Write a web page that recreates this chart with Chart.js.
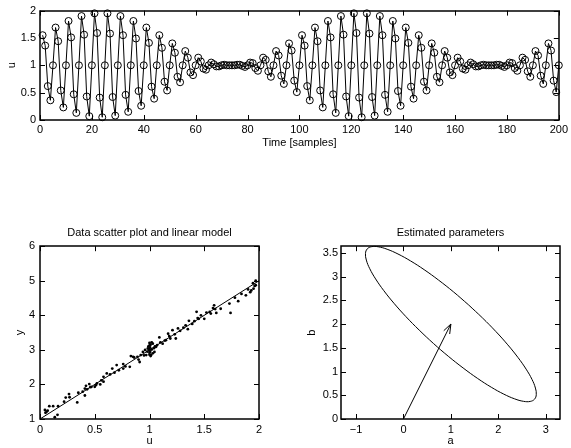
<!DOCTYPE html>
<html><head><meta charset="utf-8">
<script src="https://cdn.jsdelivr.net/npm/chart.js@4/dist/chart.umd.min.js"></script>
<style>
html,body{margin:0;padding:0;background:#fff;width:571px;height:448px;overflow:hidden}
canvas{position:absolute}
</style></head><body>
<canvas id="c1" width="571" height="150" style="left:0;top:0;width:571px;height:150px"></canvas>
<canvas id="c2" width="285" height="228" style="left:0;top:220px;width:285px;height:228px"></canvas>
<canvas id="c3" width="286" height="228" style="left:285px;top:220px;width:286px;height:228px"></canvas>
<script>
// ---- data: input signal u over samples 1..200 ----
const uSignal = [
1.55,1.36,0.62,0.36,1.00, 1.69,1.44,0.54,0.23,1.00, 1.81,1.51,0.47,0.13,1.00, 1.90,1.56,0.43,0.07,1.00,
1.95,1.59,0.41,0.05,1.00, 1.95,1.58,0.42,0.08,1.00, 1.90,1.55,0.46,0.15,1.00, 1.81,1.49,0.53,0.26,1.00,
1.69,1.41,0.61,0.39,1.00, 1.55,1.32,0.70,0.54,1.00, 1.40,1.23,0.79,0.69,1.00, 1.26,1.14,0.87,0.82,1.00,
1.14,1.07,0.94,0.92,1.00, 1.05,1.02,0.98,0.98,1.00, 1.01,1.00,1.00,1.00,1.00, 1.01,1.01,0.99,0.97,1.00,
1.05,1.04,0.95,0.90,1.00, 1.14,1.10,0.89,0.79,1.00, 1.26,1.18,0.81,0.66,1.00, 1.40,1.27,0.72,0.51,1.00,
1.55,1.36,0.62,0.36,1.00, 1.69,1.44,0.54,0.23,1.00, 1.81,1.51,0.47,0.13,1.00, 1.90,1.56,0.43,0.07,1.00,
1.95,1.59,0.41,0.05,1.00, 1.95,1.58,0.42,0.08,1.00, 1.90,1.55,0.46,0.15,1.00, 1.81,1.49,0.53,0.26,1.00,
1.69,1.41,0.61,0.39,1.00, 1.55,1.32,0.70,0.54,1.00, 1.40,1.23,0.79,0.69,1.00, 1.26,1.14,0.87,0.82,1.00,
1.14,1.07,0.94,0.92,1.00, 1.05,1.02,0.98,0.98,1.00, 1.01,1.00,1.00,1.00,1.00, 1.01,1.01,0.99,0.97,1.00,
1.05,1.04,0.95,0.90,1.00, 1.14,1.10,0.89,0.79,1.00, 1.26,1.18,0.81,0.66,1.00, 1.40,1.27,0.72,0.51,1.00
];
// ---- data: scatter of (u, y) ----
const scatterU = [0.045,0.06,0.05,0.085,0.12,0.135,0.16,0.165,0.07,0.22,0.235,0.265,0.27,0.34,0.35,0.39,0.41,0.41,0.42,0.43,
0.45,0.46,0.47,0.50,0.51,0.52,0.55,0.56,0.58,0.58,0.61,0.64,0.66,0.68,0.70,0.72,0.76,0.76,0.78,0.82,
0.83,0.85,0.86,0.89,0.90,0.91,0.92,0.94,0.95,0.96,0.97,0.98,0.985,0.99,1.00,1.00,1.00,1.00,1.00,1.00,
1.005,1.006,1.01,1.01,1.015,1.02,1.02,1.03,1.03,1.04,1.045,1.05,1.06,1.07,1.09,1.10,1.12,1.14,1.15,1.17,
1.18,1.19,1.21,1.23,1.24,1.26,1.28,1.31,1.33,1.35,1.36,1.39,1.41,1.43,1.44,1.45,1.47,1.50,1.52,1.55,
1.56,1.58,1.59,1.60,1.61,1.65,1.73,1.74,1.78,1.81,1.84,1.88,1.90,1.92,1.93,1.945,1.95,1.96,1.97,1.97];
const scatterY = [1.26,1.21,1.18,1.37,1.37,1.05,1.12,1.37,1.24,1.50,1.62,1.72,1.63,1.48,1.76,1.79,1.88,1.68,1.96,1.86,
2.01,1.92,1.93,1.93,1.98,2.03,2.00,2.12,2.22,2.08,2.32,2.29,2.46,2.34,2.56,2.41,2.46,2.59,2.52,2.51,
2.82,2.80,2.78,2.80,2.72,2.65,2.85,2.94,2.84,3.00,2.85,2.95,3.04,3.10,3.13,2.92,2.86,3.02,3.20,2.98,
3.07,2.94,2.82,3.15,2.85,3.01,3.22,3.18,2.90,3.05,2.94,3.10,3.09,3.14,3.36,3.22,3.18,3.27,3.28,3.47,
3.40,3.33,3.57,3.45,3.33,3.62,3.55,3.64,3.71,3.60,3.84,3.75,3.83,4.10,3.92,3.90,4.00,3.90,4.08,4.10,
4.05,4.21,4.29,4.18,4.07,4.19,4.34,4.07,4.51,4.41,4.62,4.58,4.75,4.67,4.72,4.93,4.77,4.85,4.87,5.00];
// ---- data: fitted linear model endpoints ----
const modelU = [0, 2];
const modelY = [1, 5];
// ---- data: estimated parameters (a,b), uncertainty ellipse and arrow ----
const ellipseA = [1.367,1.055,0.742,0.436,0.148,-0.115,-0.344,-0.532,-0.672,-0.763,-0.800,-0.782,-0.710,-0.586,-0.414,-0.199,0.052,0.333,
0.633,0.945,1.258,1.564,1.852,2.115,2.344,2.532,2.672,2.763,2.800,2.782,2.710,2.586,2.414,2.199,1.948,1.667,1.367];
const ellipseB = [2.409,2.678,2.925,3.146,3.331,3.476,3.576,3.628,3.630,3.583,3.488,3.348,3.166,2.950,2.704,2.437,2.157,1.872,
1.591,1.322,1.075,0.854,0.669,0.524,0.424,0.372,0.370,0.417,0.512,0.652,0.834,1.050,1.296,1.563,1.843,2.128,2.409];
const arrowA = [0, 1];
const arrowB = [0, 2];
const headA = [0.85, 1, 0.975];
const headB = [1.86, 2, 1.79];
// ---- tick labels ----
const topXTicks = [0,20,40,60,80,100,120,140,160,180,200];
const topYTicks = [0,0.5,1,1.5,2];

const FONT = "'Liberation Sans', Arial, Helvetica, sans-serif";
const FS = 11;
const pts = (xs, ys) => xs.map((x, i) => ({x, y: ys[i]}));
const fmt = v => String(v).replace('-', '\u2212');

const boxPlugin = {
  id: 'mbox',
  afterDraw(chart) {
    const {ctx, chartArea: a} = chart;
    const xs = chart.scales.x, ys = chart.scales.y;
    const L = 5;
    ctx.save();
    ctx.strokeStyle = '#000';
    ctx.lineWidth = 1;
    ctx.beginPath();
    xs.ticks.forEach(t => {
      const p = Math.round(xs.getPixelForValue(t.value)) + 0.5;
      ctx.moveTo(p, a.bottom); ctx.lineTo(p, a.bottom - L);
      ctx.moveTo(p, a.top); ctx.lineTo(p, a.top + L);
    });
    ys.ticks.forEach(t => {
      const p = Math.round(ys.getPixelForValue(t.value)) + 0.5;
      ctx.moveTo(a.left, p); ctx.lineTo(a.left + L, p);
      ctx.moveTo(a.right, p); ctx.lineTo(a.right - L, p);
    });
    ctx.stroke();
    ctx.lineWidth = 1.5;
    ctx.strokeRect(Math.round(a.left), Math.round(a.top), Math.round(a.right) - Math.round(a.left), Math.round(a.bottom) - Math.round(a.top));
    ctx.restore();
  }
};

function axis(opts) {
  return Object.assign({
    type: 'linear',
    grid: {display: false, drawTicks: false},
    border: {display: false},
  }, opts);
}
function ticks(extra) {
  return Object.assign({color: '#000', font: {family: FONT, size: FS}, autoSkip: false, maxRotation: 0, includeBounds: false, callback: fmt}, extra);
}
function ttl(text, pad) {
  return {display: true, text, color: '#000', font: {family: FONT, size: FS}, padding: pad};
}
const base = {
  responsive: false, animation: false, devicePixelRatio: 1,
  plugins: {legend: {display: false}, tooltip: {enabled: false}}
};

// Top chart: input signal
new Chart(document.getElementById('c1'), {
  type: 'scatter',
  data: {datasets: [{
    data: uSignal.map((v, i) => ({x: i + 1, y: v})),
    showLine: true, borderColor: '#000', borderWidth: 1,
    pointRadius: 3.5, pointBorderWidth: 1, pointBorderColor: '#000', pointBackgroundColor: 'rgba(0,0,0,0)',
    clip: false
  }]},
  options: Object.assign({}, base, {
    layout: {padding: {left: 5, top: 7, right: 11, bottom: 0}},
    scales: {
      x: axis({min: 0, max: 200, afterBuildTicks: s => { s.ticks = topXTicks.map(v => ({value: v})); },
        afterFit: s => { s.height = 30; }, ticks: ticks({padding: 3}), title: ttl('Time [samples]', {top: 0, bottom: 0})}),
      y: axis({min: 0, max: 2, afterBuildTicks: s => { s.ticks = topYTicks.map(v => ({value: v})); },
        afterFit: s => { s.width = 35; }, ticks: ticks({padding: 4}), title: ttl('u', {top: 0, bottom: 0})})
    }
  }),
  plugins: [boxPlugin]
});

// Bottom-left: scatter and linear model
new Chart(document.getElementById('c2'), {
  type: 'scatter',
  data: {datasets: [
    {data: pts(scatterU, scatterY), pointRadius: 1.4, pointBorderWidth: 0, pointBackgroundColor: '#000', showLine: false},
    {data: pts(modelU, modelY), showLine: true, borderColor: '#000', borderWidth: 1, pointRadius: 0}
  ]},
  options: Object.assign({}, base, {
    layout: {padding: {left: 13, top: 0, right: 26, bottom: 0}},
    plugins: {legend: {display: false}, tooltip: {enabled: false},
      title: {display: true, fullSize: false, text: 'Data scatter plot and linear model', color: '#000', font: {family: FONT, size: FS, weight: 'normal'}, padding: {top: 6, bottom: 7}}},
    scales: {
      x: axis({min: 0, max: 2, afterFit: s => { s.height = 29; }, ticks: ticks({stepSize: 0.5, padding: 4}), title: ttl('u', {top: 0, bottom: 0})}),
      y: axis({min: 1, max: 6, afterFit: s => { s.width = 27; }, ticks: ticks({stepSize: 1, padding: 5}), title: ttl('y', {top: 0, bottom: 0})})
    }
  }),
  plugins: [boxPlugin]
});

// Bottom-right: estimated parameters
new Chart(document.getElementById('c3'), {
  type: 'scatter',
  data: {datasets: [
    {data: pts(ellipseA, ellipseB), showLine: true, borderColor: '#000', borderWidth: 1, pointRadius: 0, tension: 0.4, clip: false},
    {data: pts(arrowA, arrowB), showLine: true, borderColor: '#000', borderWidth: 1, pointRadius: 0},
    {data: pts(headA, headB), showLine: true, borderColor: '#000', borderWidth: 1, pointRadius: 0}
  ]},
  options: Object.assign({}, base, {
    layout: {padding: {left: 20, top: 0, right: 11, bottom: 0}},
    plugins: {legend: {display: false}, tooltip: {enabled: false},
      title: {display: true, fullSize: false, text: 'Estimated parameters', color: '#000', font: {family: FONT, size: FS, weight: 'normal'}, padding: {top: 6, bottom: 7}}},
    scales: {
      x: axis({min: -1.316, max: 3.30, afterFit: s => { s.height = 29; }, ticks: ticks({stepSize: 1, padding: 4}), title: ttl('a', {top: 0, bottom: 0})}),
      y: axis({min: 0, max: 3.64, afterFit: s => { s.width = 36; }, ticks: ticks({stepSize: 0.5, padding: 3}), title: ttl('b', {top: 0, bottom: 0})})
    }
  }),
  plugins: [boxPlugin]
});
</script>
</body></html>
